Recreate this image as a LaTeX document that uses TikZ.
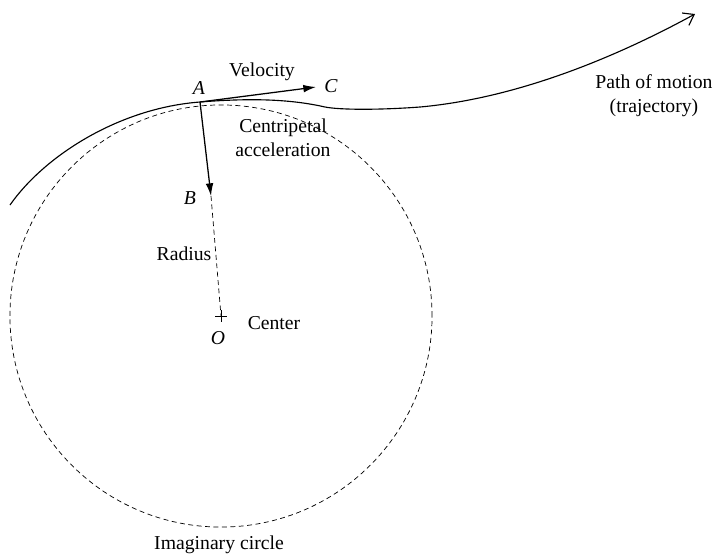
\documentclass[tikz,border=0pt]{standalone}
\usepackage{fontspec}
\setmainfont{Liberation Serif}
\usetikzlibrary{arrows.meta}
\begin{document}
\begin{tikzpicture}[x=0.025cm, y=-0.025cm, >=Latex,
		lbl/.style={font=\fontsize{14}{17}\selectfont, inner sep=1pt, align=center},
		ptlbl/.style={font=\fontsize{14}{17}\selectfont\itshape, inner sep=1pt},
		guide/.style={line width=0.5pt, dash pattern=on 3.5pt off 2.5pt},
		vec/.style={line width=0.9pt, -{Latex[length=9pt, width=5.5pt]}},
		trajline/.style={line width=0.8pt, -{Straight Barb[length=7pt, width=10pt]}}]
			% trajectory, circle and the two vectors at A
			\useasboundingbox (0,0) rectangle (718,555);
			\coordinate (A) at (200,102);
			\coordinate (B) at (211,196);
			\coordinate (C) at (316,87);
			\coordinate (O) at (221,316);
			\coordinate (S) at (10,205);
			\coordinate (P) at (695,14);
			\draw[guide] (O) circle[radius=5.275cm];
			\draw[trajline] (S) .. controls (45,155) and (120,108) .. (A)
				.. controls (250,98) and (290,99) .. (325,107)
				.. controls (340,110) and (380,110) .. (420,107)
				.. controls (520,98) and (620,55) .. (P);
			\draw[vec] (A) -- (C);
			\draw[vec] (A) -- (B);
			\draw[guide] (B) -- (O);
			\draw[line width=0.5pt] (O) +(-6,0) -- +(6,0) +(0,-6) -- +(0,6);
			\node[ptlbl] (lA) at (199,88) {A};
			\node[ptlbl] (lB) at (190,198) {B};
			\node[ptlbl] (lC) at (331,86) {C};
			\node[ptlbl] (lO) at (218,338) {O};
			\node[lbl] (vel) at (262,72) {Velocity};
			\node[lbl] (acc) at (283,138) {Centripetal\\acceleration};
			\node[lbl] (rad) at (184,254) {Radius};
			\node[lbl] (cen) at (274,323) {Center};
			\node[lbl] (img) at (219,545) {Imaginary circle};
			\node[lbl] (traj) at (654,96) {Path of motion\\(trajectory)};
		\end{tikzpicture}
\end{document}
